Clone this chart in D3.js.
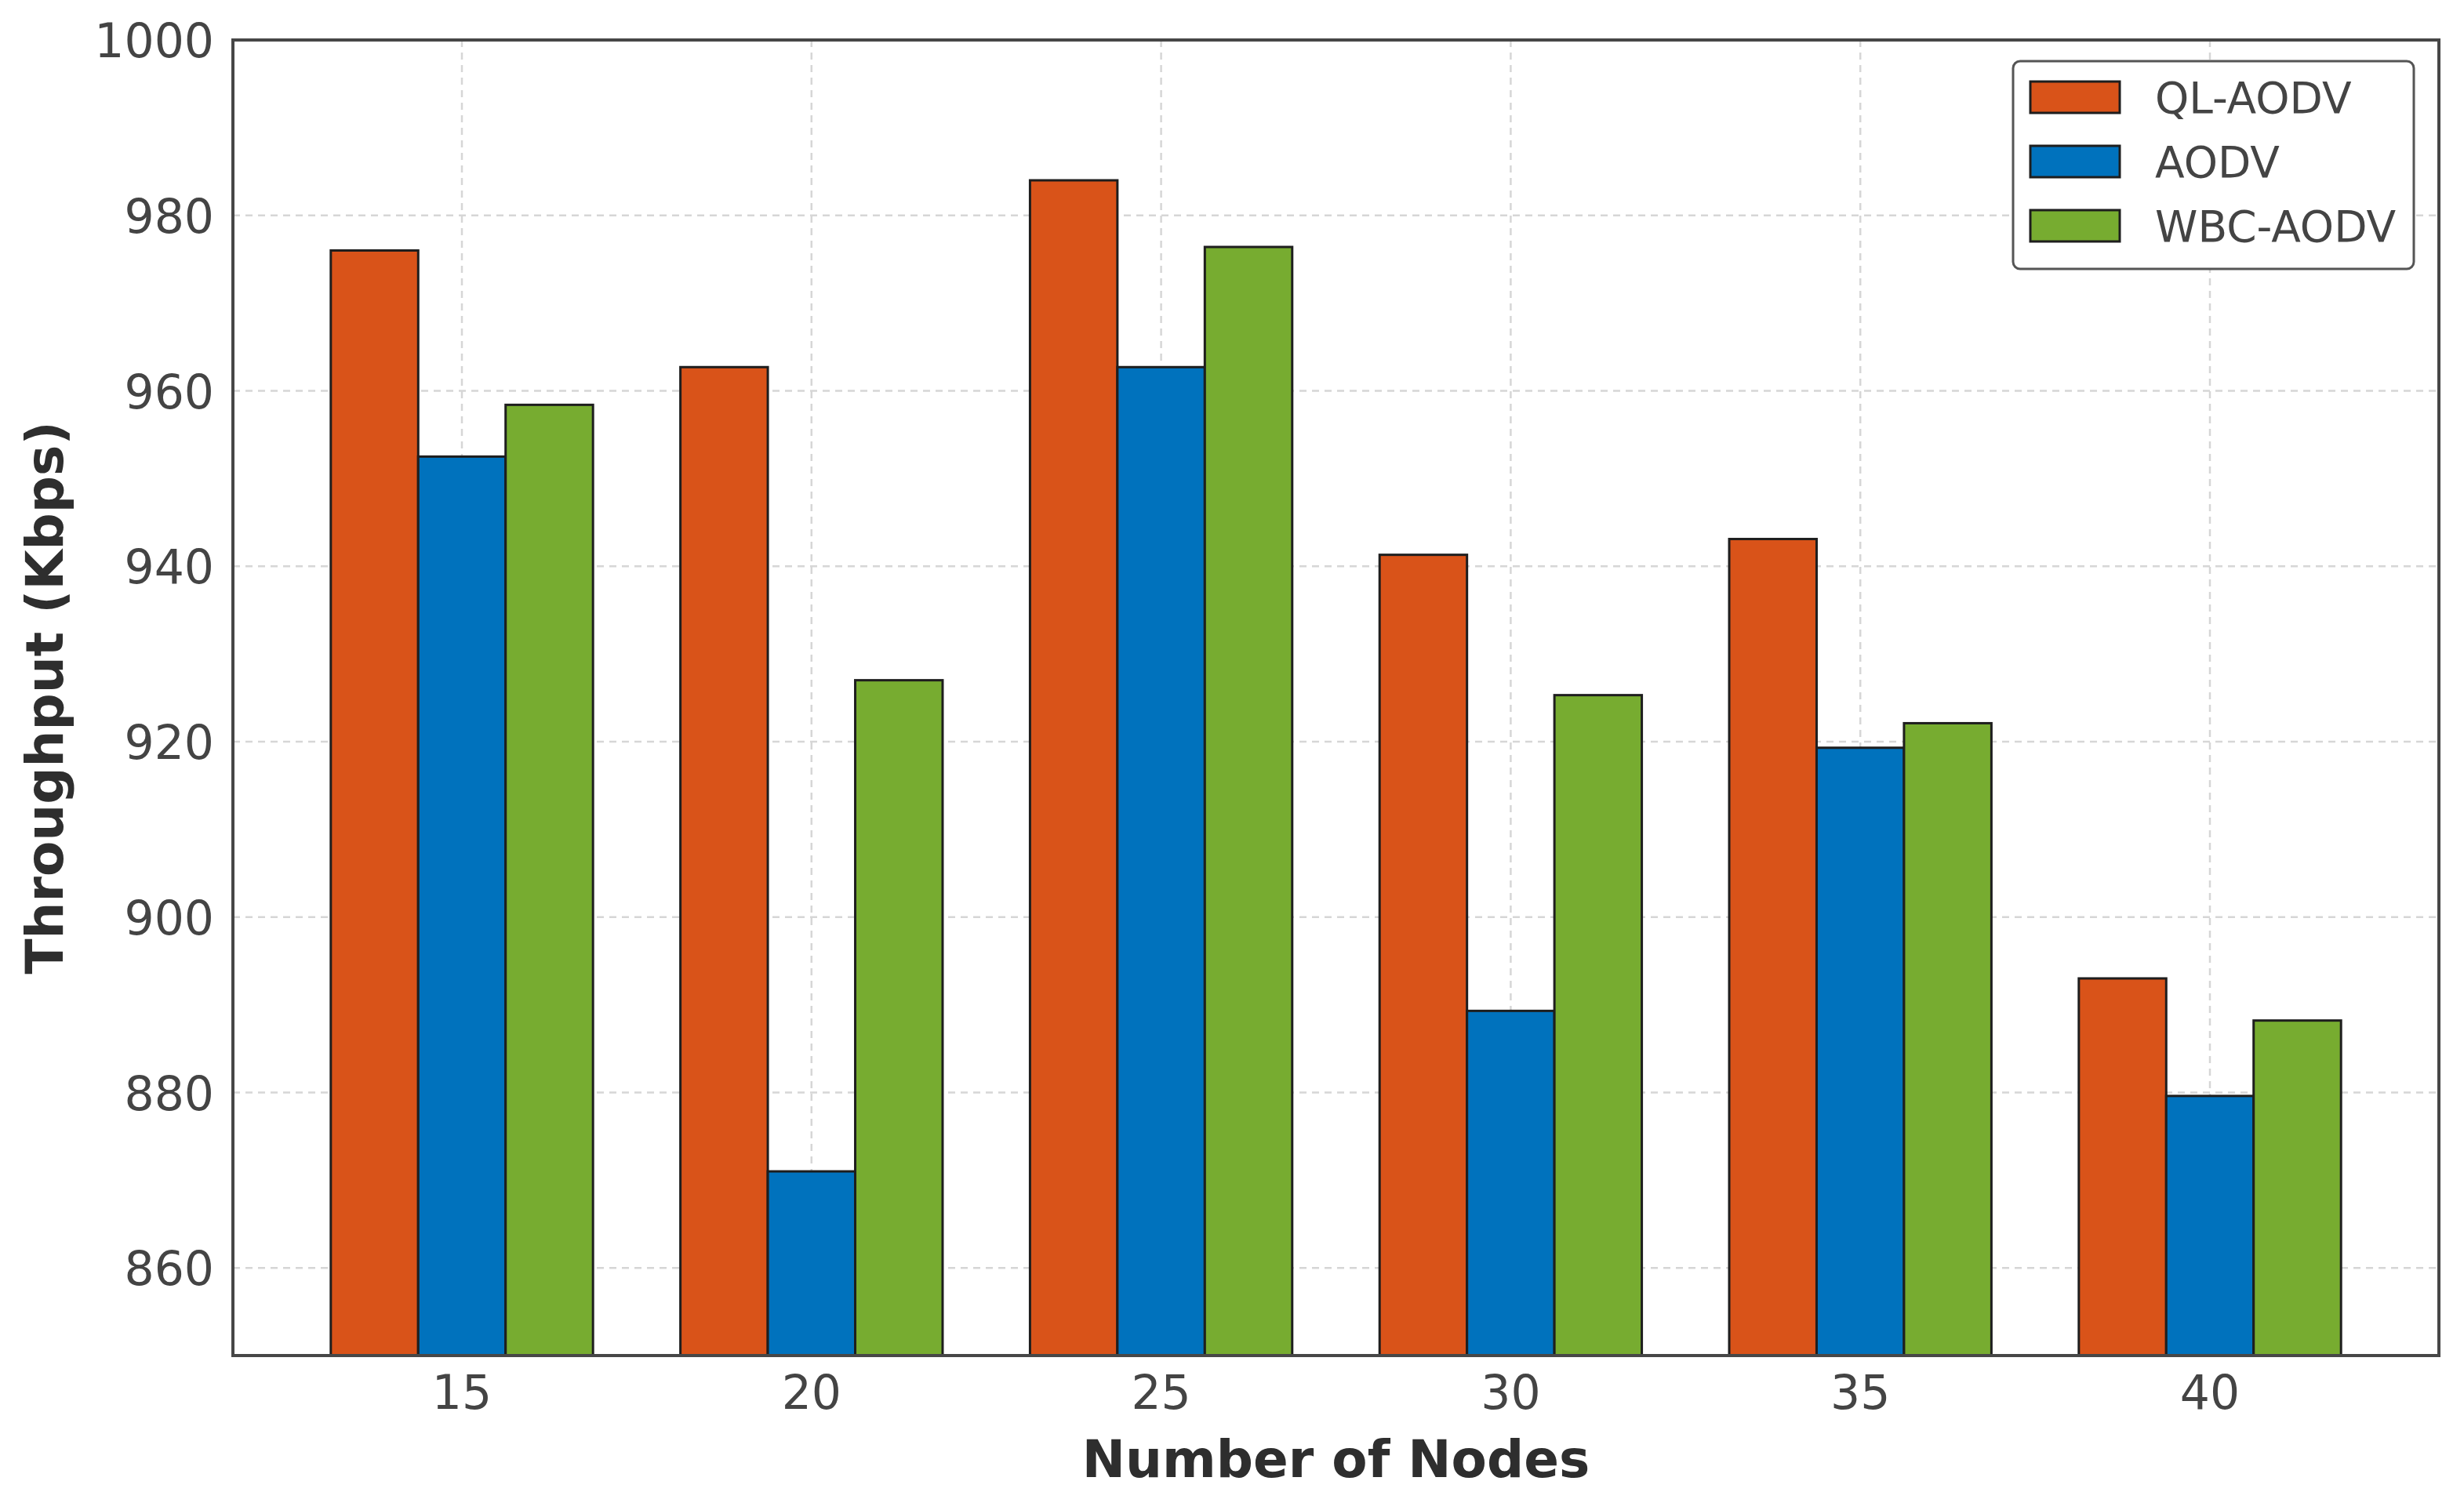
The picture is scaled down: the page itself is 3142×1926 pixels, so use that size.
<!DOCTYPE html>
<html>
<head>
<meta charset="utf-8">
<script src="https://cdn.jsdelivr.net/npm/d3@7"></script>
<style>
  html, body { margin: 0; padding: 0; background: #ffffff; }
  svg { display: block; font-family: "DejaVu Sans", sans-serif; }
</style>
</head>
<body>
<script>
const categories = ["15", "20", "25", "30", "35", "40"];
const seriesNames = ["QL-AODV", "AODV", "WBC-AODV"];
const qlAodv  = [976.0, 962.7, 984.0, 941.3, 943.1, 893.0];
const aodv    = [952.5, 871.0, 962.7, 889.3, 919.3, 879.6];
const wbcAodv = [958.4, 927.0, 976.4, 925.3, 922.1, 888.2];
const yTicks  = [860, 880, 900, 920, 940, 960, 980, 1000];
const colors  = ["#D95319", "#0072BD", "#77AC30"];

(function () {
const W = 3142, H = 1926;
const pLeft = 297, pRight = 3110, pTop = 51, pBottom = 1729;

const svg = d3.select("body").append("svg").attr("width", W).attr("height", H);

const x = d3.scaleBand().domain(categories).range([pLeft, pRight])
  .paddingInner(0.25).paddingOuter(0.28);
const xs = d3.scaleBand().domain(seriesNames).range([0, x.bandwidth()]);
const y = d3.scaleLinear().domain([850, 1000]).range([pBottom, pTop]);
const color = d3.scaleOrdinal().domain(seriesNames).range(colors);

const seriesValues = [qlAodv, aodv, wbcAodv];
const data = [];
categories.forEach((c, i) => {
  seriesNames.forEach((s, j) => data.push({cat: c, series: s, value: seriesValues[j][i]}));
});

// grid
const grid = svg.append("g");
grid.selectAll("line.h").data(yTicks).join("line")
  .attr("x1", pLeft).attr("x2", pRight)
  .attr("y1", d => y(d)).attr("y2", d => y(d))
  .attr("stroke", "#d6d6d6").attr("stroke-width", 2.5).attr("stroke-dasharray", "9,7");
grid.selectAll("line.v").data(categories).join("line")
  .attr("x1", d => x(d) + x.bandwidth() / 2).attr("x2", d => x(d) + x.bandwidth() / 2)
  .attr("y1", pTop).attr("y2", pBottom)
  .attr("stroke", "#d6d6d6").attr("stroke-width", 2.5).attr("stroke-dasharray", "9,7");

// bars
svg.append("g").selectAll("rect").data(data).join("rect")
  .attr("x", d => x(d.cat) + xs(d.series))
  .attr("y", d => y(d.value))
  .attr("width", xs.bandwidth())
  .attr("height", d => y(850) - y(d.value))
  .attr("fill", d => color(d.series))
  .attr("stroke", "#1e1e1e").attr("stroke-width", 3);

// axes
const xAxis = d3.axisBottom(x).tickSize(0).tickPadding(0);
const gx = svg.append("g").attr("transform", `translate(0,${pBottom})`).call(xAxis);
gx.select(".domain").remove();
gx.selectAll("text").attr("font-size", 60).attr("fill", "#444")
  .attr("font-family", "DejaVu Sans").attr("dy", null).attr("y", 68);

const yAxis = d3.axisLeft(y).tickValues(yTicks).tickSize(0).tickPadding(24).tickFormat(d3.format("d"));
const gy = svg.append("g").attr("transform", `translate(${pLeft},0)`).call(yAxis);
gy.select(".domain").remove();
gy.selectAll("text").attr("font-size", 60).attr("fill", "#444")
  .attr("font-family", "DejaVu Sans").attr("dy", "0.36em");

// frame
svg.append("rect").attr("x", pLeft).attr("y", pTop)
  .attr("width", pRight - pLeft).attr("height", pBottom - pTop)
  .attr("fill", "none").attr("stroke", "#474747").attr("stroke-width", 4);

// axis labels
svg.append("text").attr("x", (pLeft + pRight) / 2).attr("y", 1884)
  .attr("text-anchor", "middle").attr("font-size", 66).attr("font-weight", "bold")
  .attr("fill", "#2e2e2e").text("Number of Nodes");
svg.append("text").attr("transform", `translate(80,${(pTop + pBottom) / 2}) rotate(-90)`)
  .attr("text-anchor", "middle").attr("font-size", 66).attr("font-weight", "bold")
  .attr("fill", "#2e2e2e").text("Throughput (Kbps)");

// legend
const lg = svg.append("g");
lg.append("rect").attr("x", 2567).attr("y", 78).attr("width", 511).attr("height", 265)
  .attr("rx", 9).attr("fill", "#ffffff").attr("stroke", "#555").attr("stroke-width", 3);
const items = lg.selectAll("g.item").data(seriesNames).join("g")
  .attr("transform", (d, i) => `translate(2589,${124 + i * 82})`);
items.append("rect").attr("x", 0).attr("y", -20).attr("width", 114).attr("height", 40)
  .attr("fill", d => color(d)).attr("stroke", "#1e1e1e").attr("stroke-width", 3);
items.append("text").attr("x", 159).attr("y", 0).attr("dy", "0.36em")
  .attr("font-size", 55).attr("fill", "#444").text(d => d);
})();
</script>
</body>
</html>
